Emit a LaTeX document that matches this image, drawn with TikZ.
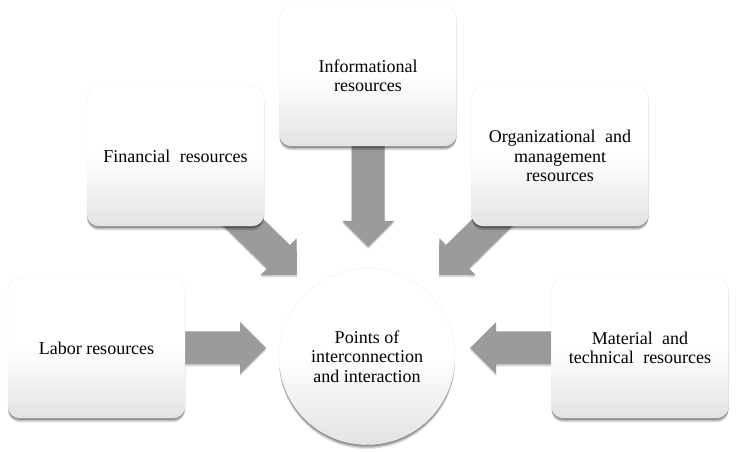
\documentclass[tikz,border=0pt]{standalone}
\usepackage{fontspec}
\setmainfont{Liberation Serif}
\usetikzlibrary{calc,shadows}
\definecolor{arrowgray}{RGB}{155,155,155}
\pgfdeclarelayer{bg}
\pgfdeclarelayer{paper}
\pgfsetlayers{paper,bg,main}
\tikzset{
  softshadow/.style={
    drop shadow={shadow xshift=0pt, shadow yshift=-4.5pt, opacity=0.10, fill=black},
    drop shadow={shadow xshift=0pt, shadow yshift=-3.5pt, opacity=0.15, fill=black},
    drop shadow={shadow xshift=0pt, shadow yshift=-2pt, opacity=0.25, fill=black}},
  box/.style={rectangle, rounded corners=12pt, minimum width=177pt, minimum height=140pt,
    inner sep=0pt, align=center, font=\fontsize{18}{19.5}\selectfont,
    top color=white, bottom color=black!11, middle color=white,
    draw=black!6, line width=0.4pt, softshadow},
  hub/.style={circle, minimum size=176pt, inner sep=0pt, align=center,
    font=\fontsize{18}{19.5}\selectfont,
    top color=white, bottom color=black!11, middle color=white,
    draw=black!6, line width=0.4pt, softshadow},
  blockarrow/.style={fill=arrowgray, draw=none,
    drop shadow={shadow xshift=0pt, shadow yshift=-2pt, opacity=0.15, fill=black}}
}
\newcommand{\blockarr}[2]{%
  \path[blockarrow] let \p1=(#1), \p2=(#2),
    \n1={atan2(\y2-\y1,\x2-\x1)}, \n2={veclen(\x2-\x1,\y2-\y1)} in
    [shift={(\p1)}, rotate=\n1]
    (0pt,-16.5pt) -- (\n2-26pt,-16.5pt) -- (\n2-26pt,-26pt) -- (\n2,0pt)
    -- (\n2-26pt,26pt) -- (\n2-26pt,16.5pt) -- (0pt,16.5pt) -- cycle;}
\begin{document}
\begin{tikzpicture}[x=1pt,y=1pt]
  \useasboundingbox (0,0) rectangle (736,452);
  \begin{pgfonlayer}{paper}
    \fill[white] (0,0) rectangle (736,452);
  \end{pgfonlayer}
  \node[box] (fin) at (175.5,296) {Financial\hspace{5pt} resources};
  \node[box] (inf) at (368,376) {Informational\\resources};
  \node[box] (org) at (560,296) {Organizational\hspace{5pt} and\\management\\resources};
  \node[box] (lab) at (96.5,104) {Labor resources};
  \node[box] (mat) at (640,104) {Material\hspace{5pt} and\\technical\hspace{5pt} resources};
  \node[hub] (hub) at (367,95.5) {Points of\\interconnection\\and interaction};
  \coordinate (tinf) at (368,205);
  \coordinate (tfin) at (297,177);
  \coordinate (torg) at (439,177);
  \coordinate (tlab) at (266,104);
  \coordinate (tmat) at (470,104);
  \begin{pgfonlayer}{bg}
    \blockarr{inf}{tinf}
    \blockarr{fin}{tfin}
    \blockarr{org}{torg}
    \blockarr{lab}{tlab}
    \blockarr{mat}{tmat}
  \end{pgfonlayer}
\end{tikzpicture}
\end{document}
